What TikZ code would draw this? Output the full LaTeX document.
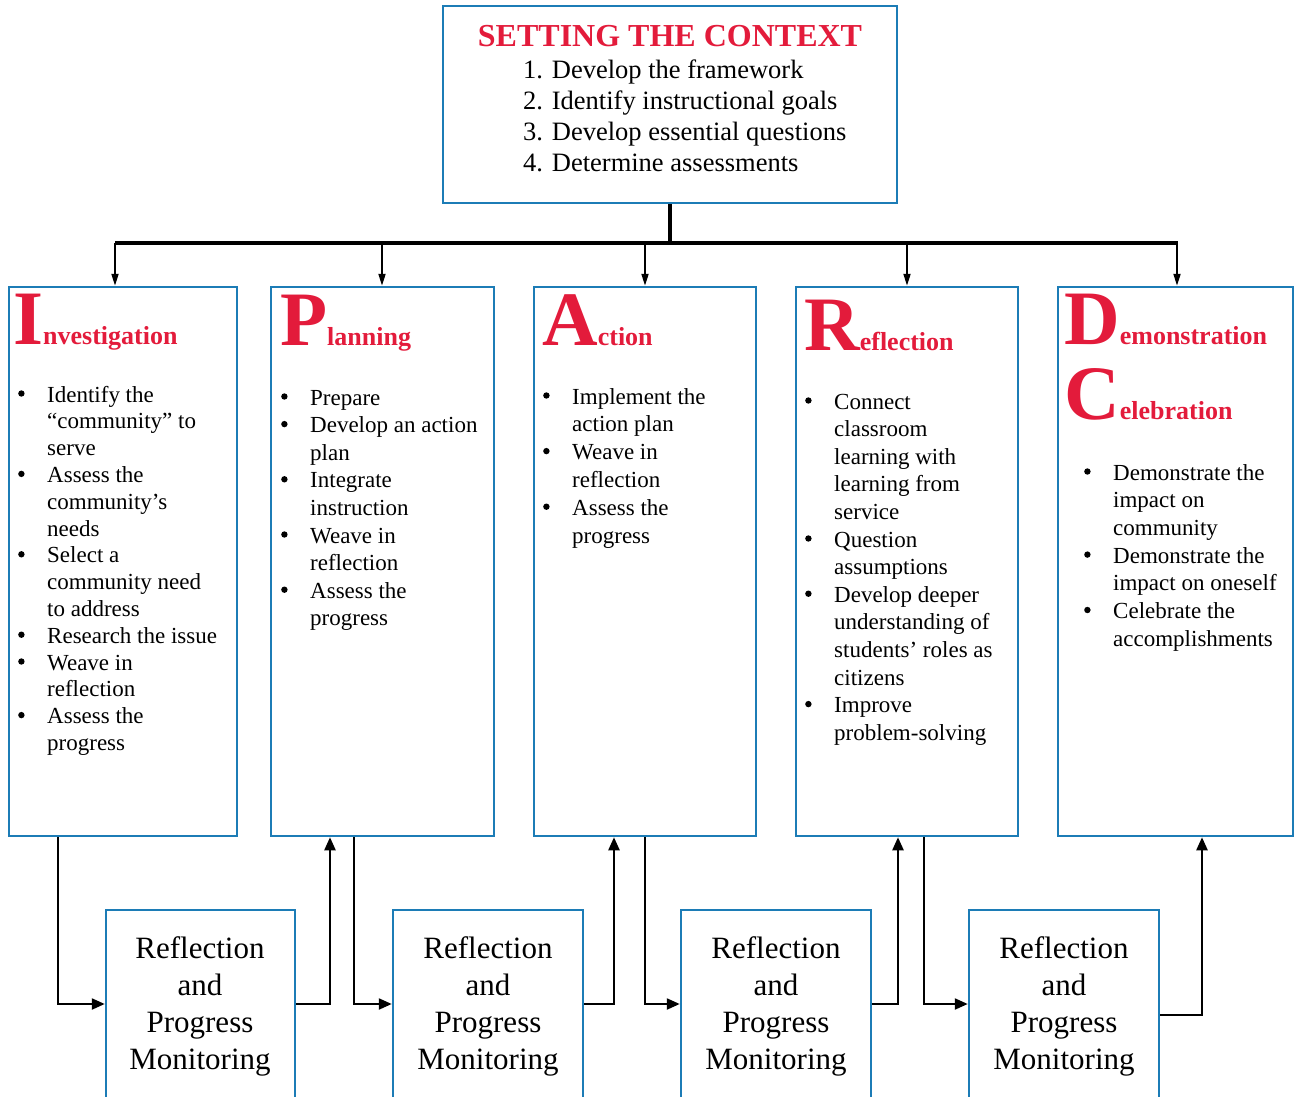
\documentclass[tikz,border=0pt]{standalone}
\usepackage{fontspec}
\setmainfont{Liberation Serif}
\usetikzlibrary{arrows.meta}
\definecolor{cred}{RGB}{227,27,59}
\definecolor{cblue}{RGB}{28,124,182}
\newcommand\bul{\tikz[baseline=0pt]\fill (3.2pt,8.5pt) circle[radius=3.2pt];}
\newcommand\bulist[2]{{\fontsize{23}{#1}\selectfont\begin{tabular}[t]{@{}p{29pt}@{}l@{}}#2\end{tabular}}}
\newcommand\hd[2]{{\fontsize{77}{77}\selectfont\bfseries #1}{\fontsize{26}{30}\selectfont\bfseries #2}}
\newcommand\rpmtext{\begin{tabular}[t]{@{}c@{}}Reflection\\and\\Progress\\Monitoring\end{tabular}}
\begin{document}
\begin{tikzpicture}[x=1pt,y=-1pt,
  box/.style={draw=cblue,line width=2.5pt,inner sep=0pt,rectangle},
  ttl/.style={anchor=base,inner sep=0pt,text=cred,font=\fontsize{32}{36}\selectfont\bfseries},
  hdn/.style={anchor=base west,inner sep=0pt,text=cred},
  lst/.style={anchor=base west,inner sep=0pt},
  rpm/.style={anchor=base,inner sep=0pt,font=\fontsize{31}{37}\selectfont},
  busline/.style={line width=3.5pt},
  drop/.style={line width=2pt,-{Triangle[length=12pt,width=7pt]}},
  lnk/.style={line width=2.3pt,-{Triangle[length=13pt,width=11pt]}}]
\useasboundingbox (0,0) rectangle (1294,1097);
\clip (0,0) rectangle (1294,1097);
% boxes
\node[box,minimum width=454pt,minimum height=197pt] (top) at (670,104.5) {};
\node[box,minimum width=228pt,minimum height=549pt] (inv) at (123,561.5) {};
\node[box,minimum width=223pt,minimum height=549pt] (pla) at (382.5,561.5) {};
\node[box,minimum width=222pt,minimum height=549pt] (act) at (645,561.5) {};
\node[box,minimum width=222pt,minimum height=549pt] (ref) at (907,561.5) {};
\node[box,minimum width=235pt,minimum height=549pt] (dem) at (1175.5,561.5) {};
\node[box,minimum width=189pt,minimum height=200pt] (rA) at (200.5,1010) {};
\node[box,minimum width=190pt,minimum height=200pt] (rB) at (488,1010) {};
\node[box,minimum width=190pt,minimum height=200pt] (rC) at (776,1010) {};
\node[box,minimum width=190pt,minimum height=200pt] (rD) at (1064,1010) {};
% top text
\node[ttl] (ttop) at (670,47) {SETTING THE CONTEXT};
\node[lst,font=\fontsize{26.5}{31}\selectfont] (tlist) at (523,79) {\begin{tabular}[t]{@{}l@{}}1. Develop the framework\\2. Identify instructional goals\\3. Develop essential questions\\4. Determine assessments\end{tabular}};
% headings
\node[hdn] (hinv) at (13,344) {\hd{I}{nvestigation}};
\node[hdn] (hpla) at (280,345) {\hd{P}{lanning}};
\node[hdn] (hact) at (542,345) {\hd{A}{ction}};
\node[hdn] (href) at (804,350) {\hd{R}{eflection}};
\node[hdn] (hdem) at (1064,344) {\hd{D}{emonstration}};
\node[hdn] (hcel) at (1064,419) {\hd{C}{elebration}};
% lists
\node[lst] (linv) at (18,402) {\bulist{26.8}{%
\bul & Identify the\\ & “community” to\\ & serve\\
\bul & Assess the\\ & community’s\\ & needs\\
\bul & Select a\\ & community need\\ & to address\\
\bul & Research the issue\\
\bul & Weave in\\ & reflection\\
\bul & Assess the\\ & progress\\}};
\node[lst] (lpla) at (281,405) {\bulist{27.6}{%
\bul & Prepare\\
\bul & Develop an action\\ & plan\\
\bul & Integrate\\ & instruction\\
\bul & Weave in\\ & reflection\\
\bul & Assess the\\ & progress\\}};
\node[lst] (lact) at (543,404) {\bulist{27.8}{%
\bul & Implement the\\ & action plan\\
\bul & Weave in\\ & reflection\\
\bul & Assess the\\ & progress\\}};
\node[lst] (lref) at (805,409) {\bulist{27.6}{%
\bul & Connect\\ & classroom\\ & learning with\\ & learning from\\ & service\\
\bul & Question\\ & assumptions\\
\bul & Develop deeper\\ & understanding of\\ & students’ roles as\\ & citizens\\
\bul & Improve\\ & problem-solving\\}};
\node[lst] (ldem) at (1084,480) {\bulist{27.7}{%
\bul & Demonstrate the\\ & impact on\\ & community\\
\bul & Demonstrate the\\ & impact on oneself\\
\bul & Celebrate the\\ & accomplishments\\}};
% bottom texts
\node[rpm] (tA) at (200,958) {\rpmtext};
\node[rpm] (tB) at (488,958) {\rpmtext};
\node[rpm] (tC) at (776,958) {\rpmtext};
\node[rpm] (tD) at (1064,958) {\rpmtext};
% top connectors
\coordinate (busM) at (670,243);
\coordinate (busL) at (115,243);
\coordinate (busR) at (1178,243);
\draw[busline] (top.south) -- (busM);
\draw[busline] (busL) -- (busR);
\draw[drop] (busL) -- (busL |- inv.north);
\draw[drop] (382,243) -- (382,0 |- pla.north);
\draw[drop] (645,243) -- (645,0 |- act.north);
\draw[drop] (907,243) -- (907,0 |- ref.north);
\draw[drop] (1177,243) -- (1177,0 |- dem.north);
% bottom connectors
\draw[lnk] (58,0 |- inv.south) |- (rA.west |- 0,1004);
\draw[lnk] (rA.east |- 0,1004) -| (330,0 |- pla.south);
\draw[lnk] (354,0 |- pla.south) |- (rB.west |- 0,1004);
\draw[lnk] (rB.east |- 0,1004) -| (614,0 |- act.south);
\draw[lnk] (645,0 |- act.south) |- (rC.west |- 0,1004);
\draw[lnk] (rC.east |- 0,1004) -| (898,0 |- ref.south);
\draw[lnk] (924,0 |- ref.south) |- (rD.west |- 0,1004);
\draw[lnk] (rD.east |- 0,1015) -| (1202,0 |- dem.south);
\end{tikzpicture}
\end{document}
